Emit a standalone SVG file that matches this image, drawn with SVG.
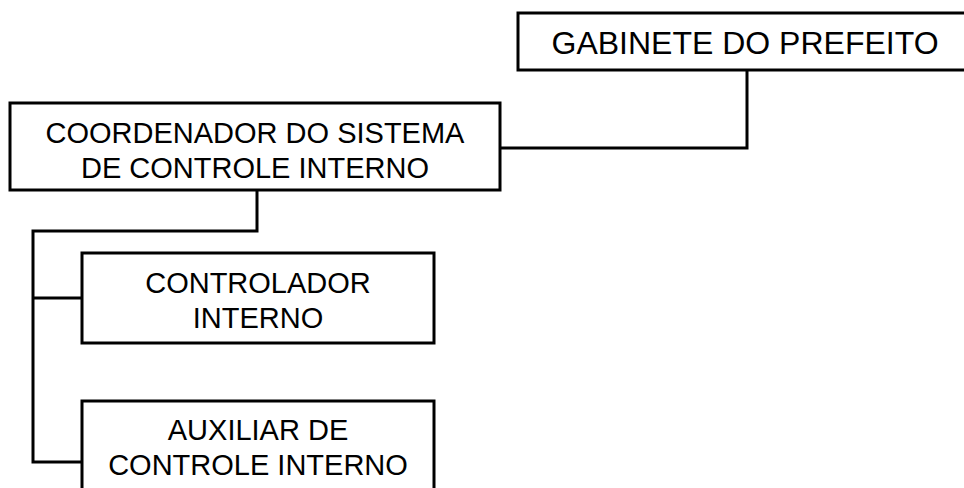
<svg xmlns="http://www.w3.org/2000/svg" width="964" height="488" viewBox="0 0 964 488">
<style>
.box{fill:#fff;stroke:#000;stroke-width:3}
.ln{fill:none;stroke:#000;stroke-width:3}
text{font-family:"Liberation Sans",Arial,sans-serif;font-size:29px;fill:#000;text-anchor:middle}
.big{font-size:32px}
</style>
<rect width="964" height="488" fill="#fff"/>
<g id="connectors">
<polyline class="ln" points="500,148 747,148 747,70"/>
<polyline class="ln" points="257,190 257,231 33,231 33,462 82,462"/>
<line class="ln" x1="33" y1="298" x2="82" y2="298"/>
</g>
<g id="gabinete">
<rect class="box" x="518" y="13" width="460" height="57"/>
<text class="big" x="745" y="54">GABINETE DO PREFEITO</text>
</g>
<g id="coordenador">
<rect class="box" x="10" y="103" width="490" height="87"/>
<text x="255" y="143">COORDENADOR DO SISTEMA</text>
<text x="255" y="178">DE CONTROLE INTERNO</text>
</g>
<g id="controlador">
<rect class="box" x="82" y="253" width="352" height="90"/>
<text x="258" y="293">CONTROLADOR</text>
<text x="258" y="328">INTERNO</text>
</g>
<g id="auxiliar">
<rect class="box" x="82" y="401" width="352" height="100"/>
<text x="258" y="440">AUXILIAR DE</text>
<text x="258" y="475">CONTROLE INTERNO</text>
</g>
</svg>
